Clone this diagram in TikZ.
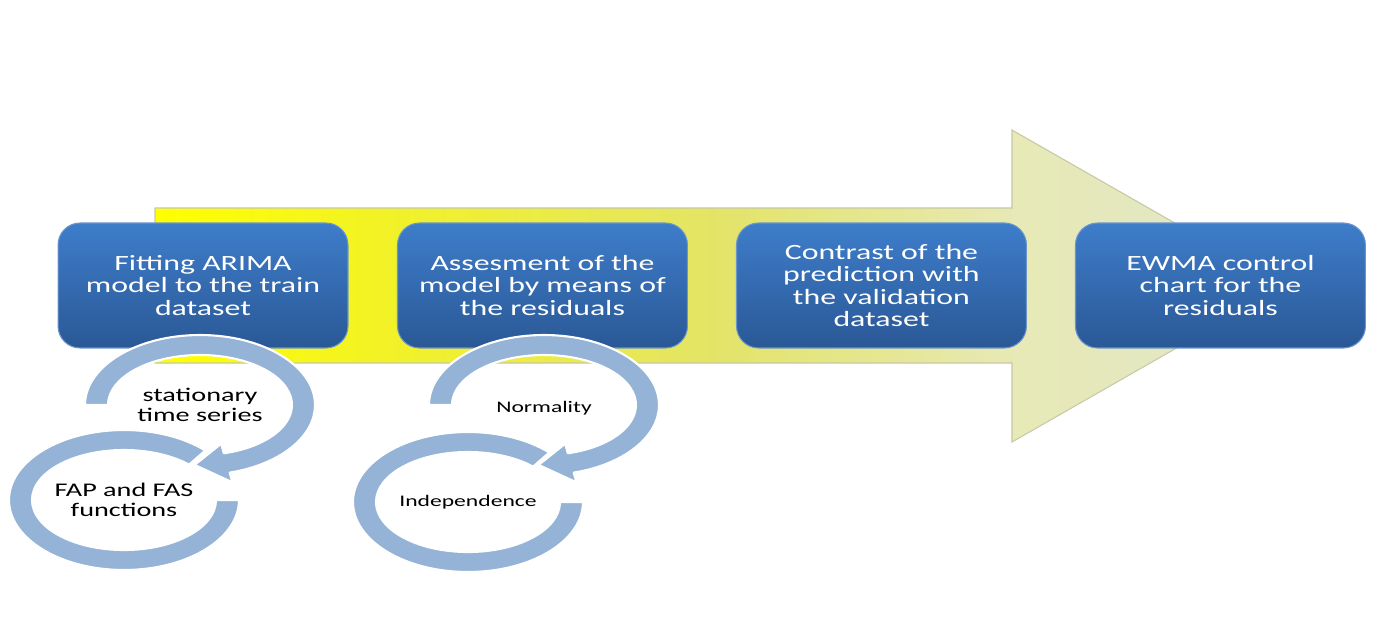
\documentclass[tikz,border=0pt]{standalone}
\usepackage{fontspec}
\newfontfamily\calib[FakeStretch=1.46]{Carlito}
\usetikzlibrary{calc,positioning}
\definecolor{boxtop}{HTML}{3E7DCA}
\definecolor{boxbot}{HTML}{2A5896}
\definecolor{boxedge}{HTML}{6A95CC}
\definecolor{ringblue}{HTML}{95B3D7}
\definecolor{arrowedge}{HTML}{C6C9A4}
\definecolor{shaftA}{HTML}{FFFF00}
\definecolor{shaftB}{HTML}{F2F226}
\definecolor{shaftC}{HTML}{E3E468}
\definecolor{shaftD}{HTML}{E7E9B6}
\definecolor{shaftE}{HTML}{E1E6C8}
% the pgf box maps 25bp--75bp onto the path
\pgfdeclarehorizontalshading{shaftshade}{100bp}{color(0bp)=(shaftA); color(25bp)=(shaftA);
	color(35bp)=(shaftB); color(50bp)=(shaftC); color(63bp)=(shaftD); color(75bp)=(shaftE);
	color(100bp)=(shaftE)}
\tikzset{
	phase/.style={
		draw=boxedge, line width=0.6pt, rounded corners=0.44cm,
		top color=boxtop, bottom color=boxbot,
		minimum width=5.8cm, minimum height=2.5cm,
		align=center, text=white,
		font=\calib\fontsize{12.4}{12.6}\selectfont
	},
	loopring/.style={fill=ringblue, draw=white, line width=1.2pt, line join=round},
	looptext/.style={align=center, text=black, font=\calib\fontsize{11}{11.2}\selectfont},
	smalltext/.style={looptext, font=\calib\fontsize{9.2}{10}\selectfont}
}

\begin{document}
\begin{tikzpicture}[x=0.02cm, y=-0.02cm]
	\useasboundingbox[fill=white] (0,0) rectangle (1387,643);

	% big process arrow
	\shade[shading=shaftshade, draw=arrowedge, line width=0.6pt]
		(155,208) -- (1012,208) -- (1012,130) -- (1285,286)
		-- (1012,442) -- (1012,363) -- (155,363) -- cycle;

	% steps
	\node[phase] (fit) at (203,285.5) {Fitting ARIMA\\model to the train\\dataset};
	\node[phase, right=0.97cm of fit] (assess) {Assesment of the\\model by means of\\the residuals};
	\node[phase, right=0.96cm of assess] (contrast) {Contrast of the\\prediction with\\the validation\\dataset};
	\node[phase, right=0.96cm of contrast] (ewma) {EWMA control\\chart for the\\residuals};

	% loops under the first two steps
	\coordinate (statc) at (200,405);
	\coordinate (fapc)  at (124,500);
	\coordinate (normc) at (544,405);
	\coordinate (indc)  at (468,502);

	\foreach \up/\low in {statc/fapc, normc/indc} {
		\draw[loopring]
			([shift={(-45:115 and 70)}]\low) arc[start angle=-45, end angle=-360, x radius=115, y radius=70]
			-- ([shift={(0:92 and 50)}]\low) arc[start angle=-360, end angle=-45, x radius=92, y radius=50]
			-- cycle;
		\draw[loopring]
			([shift={(180:115 and 70)}]\up) arc[start angle=180, end angle=435, x radius=115, y radius=70]
			-- ([shift={(435:125 and 80)}]\up) -- ([shift={(453:103.5 and 60)}]\up)
			-- ([shift={(435:82 and 40)}]\up)
			-- ([shift={(435:92 and 50)}]\up) arc[start angle=435, end angle=180, x radius=92, y radius=50]
			-- cycle;
	}

	\node[looptext] (stat) at (statc) {stationary\\time series};
	\node[looptext] (fap)  at (fapc) {FAP and FAS\\functions};
	\node[smalltext] (norm) at ($(normc)+(0,3)$) {Normality};
	\node[smalltext] (ind)  at (indc) {Independence};
\end{tikzpicture}
\end{document}
